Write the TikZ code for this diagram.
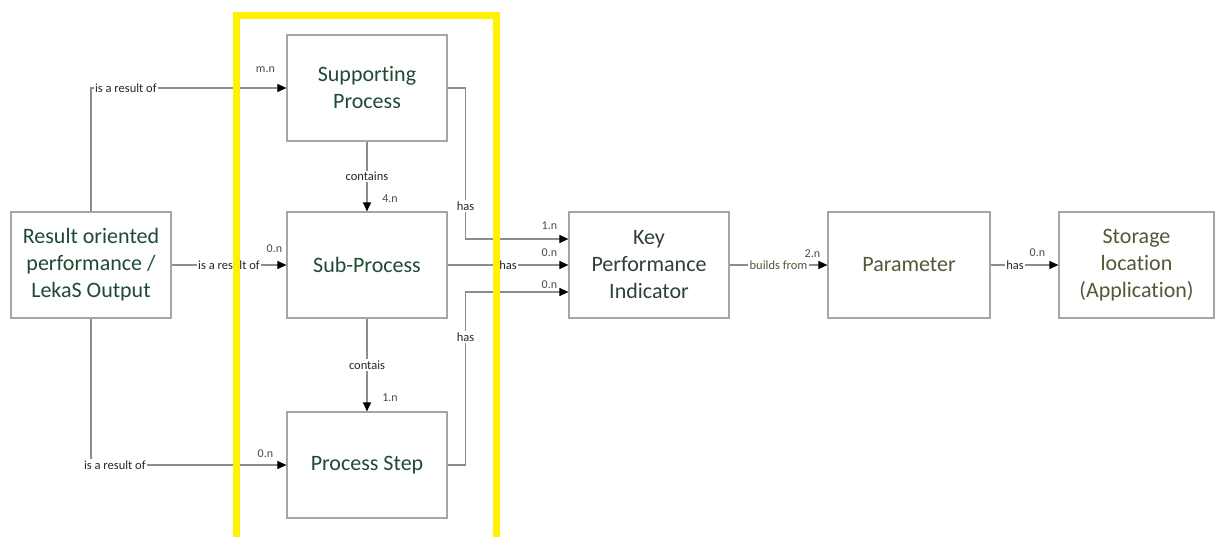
\documentclass[tikz,border=0pt]{standalone}
\usepackage{fontspec}
\setmainfont{Carlito}[Ligatures=NoCommon]
\usetikzlibrary{arrows.meta}
\definecolor{boxline}{HTML}{A6A6A6}
\definecolor{conline}{HTML}{8C8C8C}
\definecolor{txtgreen}{HTML}{1F4A33}
\definecolor{txtkpi}{HTML}{2E4038}
\definecolor{txtolive}{HTML}{4F5A38}
\definecolor{lbltext}{HTML}{262626}
\definecolor{cardtext}{HTML}{4A4A4A}
\tikzset{
  entity/.style={draw=boxline, line width=1.2pt, fill=white, minimum width=160pt, minimum height=106pt,
    align=center, inner sep=2pt, font=\fontsize{22}{27}\selectfont},
  conn/.style={draw=conline, line width=1.1pt, -{Triangle[length=9pt,width=8pt,color=black]}},
  lbl/.style={fill=white, inner sep=1.5pt, text=lbltext, font=\fontsize{12.5}{14}\selectfont},
  card/.style={inner sep=1pt, text=cardtext, font=\fontsize{12}{14}\selectfont},
  hilite/.style={draw=yellow, line width=6.5pt}
}
\begin{document}
\begin{tikzpicture}[x=1pt,y=1pt]
\useasboundingbox (0,0) rectangle (1215,-537);
\fill[white] (0,0) rectangle (1215,-537);

% entities
\node[entity, text=txtgreen] (res) at (91,-265) {Result oriented\\performance /\\LekaS Output};
\node[entity, text=txtgreen] (sup) at (367,-88) {Supporting\\Process};
\node[entity, text=txtgreen] (sub) at (367,-265) {Sub-Process};
\node[entity, text=txtgreen] (step) at (367,-465) {Process Step};
\node[entity, text=txtkpi] (kpi) at (649,-265) {Key\\Performance\\Indicator};
\node[entity, text=txtolive, minimum width=162pt] (par) at (909,-265) {Parameter};
\node[entity, text=txtolive, minimum width=155pt] (sto) at (1136.5,-265) {Storage\\location\\(Application)};

% connectors from Result oriented performance
\draw[conn] (res.north) |- node[lbl, pos=0.5, anchor=west, xshift=2pt] {is a result of} (sup.west);
\draw[conn] (res.east) -- node[lbl, pos=0.5] {is a result of} (sub.west);
\draw[conn] (res.south) |- node[lbl, pos=0.561] {is a result of} (step.west);

% containment
\draw[conn] (sup.south) -- node[lbl, pos=0.5] {contains} (sub.north);
\draw[conn] (sub.south) -- node[lbl, pos=0.5] {contais} (step.north);

% has -> KPI
\draw[conn] (sup.east) -- ++(18,0) |- node[lbl, pos=0.39] {has} ([yshift=26]kpi.west);
\draw[conn] (sub.east) -- node[lbl, pos=0.5] {has} (kpi.west);
\draw[conn] (step.east) -- ++(18,0) |- node[lbl, pos=0.37] {has} ([yshift=-27]kpi.west);

% KPI -> Parameter -> Storage
\draw[conn] (kpi.east) -- node[lbl, pos=0.5, text=txtolive] {builds from} (par.west);
\draw[conn] (par.east) -- node[lbl, pos=0.36] {has} (sto.west);

% cardinalities
\node[card] (c1) at ([shift={(-21,18)}]sup.west) {m.n};
\node[card] (c2) at ([shift={(-12,16)}]sub.west) {0.n};
\node[card] (c3) at ([shift={(-21,11)}]step.west) {0.n};
\node[card] (c4) at ([shift={(23,13)}]sub.north) {4.n};
\node[card] (c5) at ([shift={(23,14)}]step.north) {1.n};
\node[card] (c6) at ([shift={(-19,39)}]kpi.west) {1.n};
\node[card] (c7) at ([shift={(-19,12)}]kpi.west) {0.n};
\node[card] (c8) at ([shift={(-19,-20)}]kpi.west) {0.n};
\node[card] (c9) at ([shift={(-15,11)}]par.west) {2.n};
\node[card] (c10) at ([shift={(-21,12)}]sto.west) {0.n};

% highlight frame
\draw[hilite] (236.5,-15.5) rectangle (496.5,-560);
\end{tikzpicture}
\end{document}
